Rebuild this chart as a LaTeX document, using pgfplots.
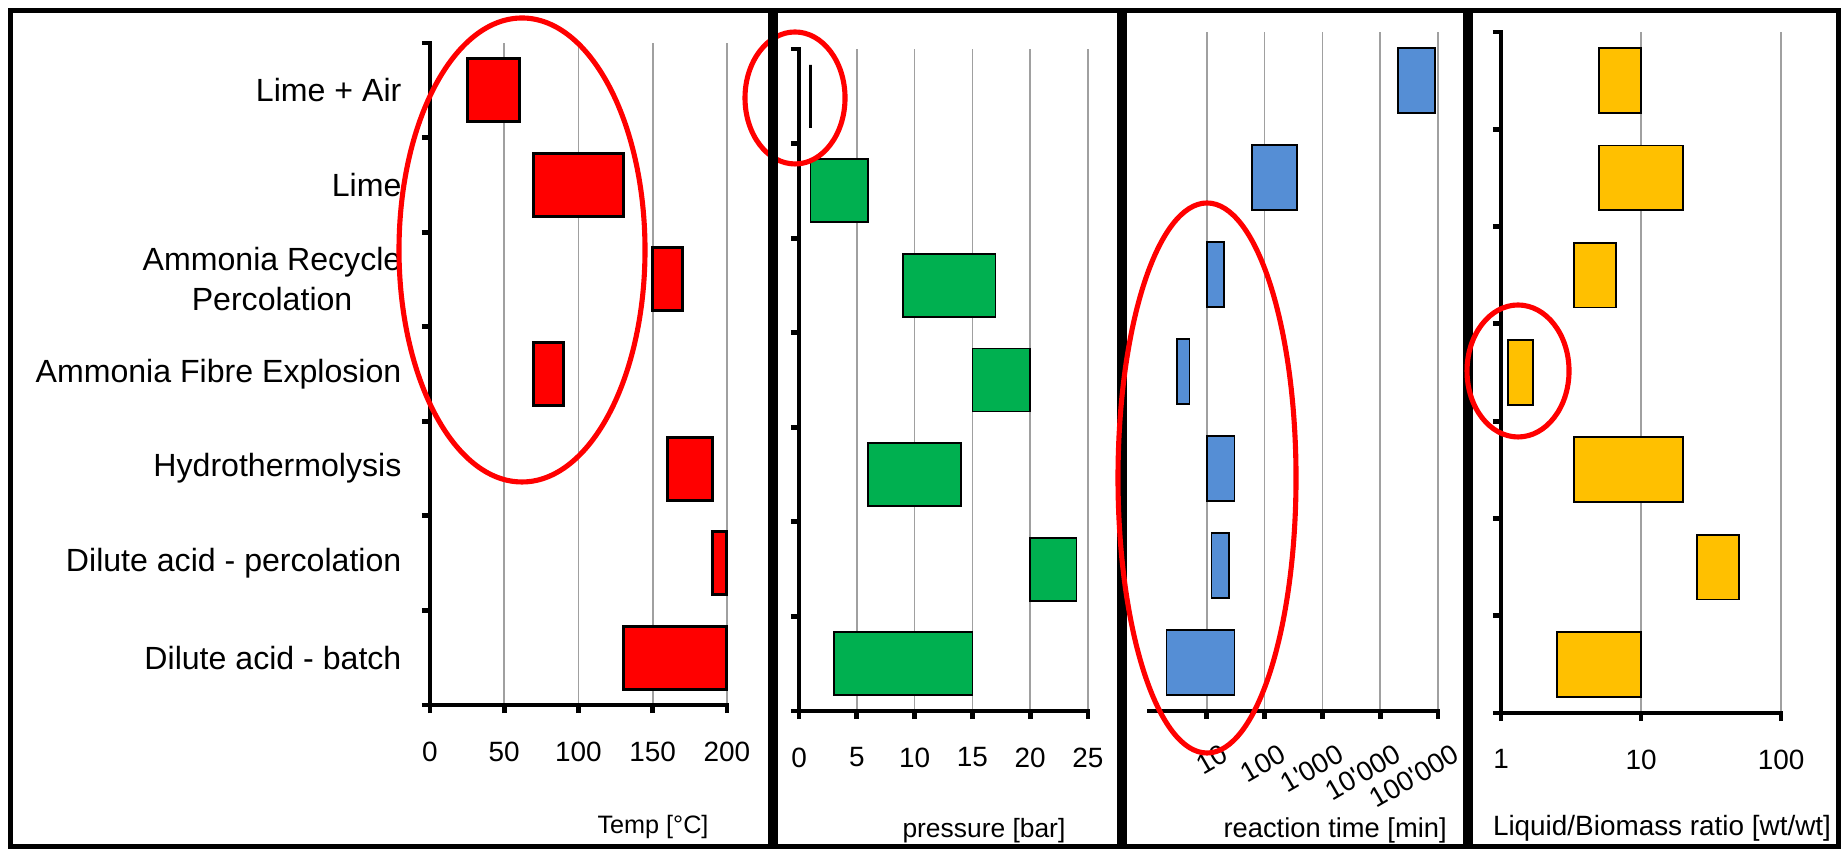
\documentclass[border=0pt]{standalone}
\usepackage{pgfplots}
\pgfplotsset{compat=1.18}
\usepackage{fontspec}
\setmainfont{Liberation Sans}

\definecolor{bred}{RGB}{255,0,0}
\definecolor{bgreen}{RGB}{0,176,80}
\definecolor{bblue}{RGB}{85,142,213}
\definecolor{byellow}{RGB}{255,192,0}
\definecolor{gridgray}{RGB}{160,160,160}

% one floating bar: low value, high value, category position (1 = bottom), style
\newcommand{\rbar}[4]{%
  \pgfmathsetmacro\ya{#3-0.333}\pgfmathsetmacro\yb{#3+0.333}%
  \edef\tmp{\noexpand\addplot[#4] coordinates {(#1,\ya) (#2,\ya) (#2,\yb) (#1,\yb)} -- cycle;}\tmp}

\pgfplotsset{
  panel/.style={
    scale only axis, clip=false,
    ymin=0.5, ymax=7.5,
    axis x line=bottom, axis y line=left,
    axis line style={-, line width=1.6pt, line cap=rect},
    tick align=outside,
    major tick length=2.7pt,
    tick style={line width=1.6pt, black},
    xminorticks=false, yminorticks=false,
    ytick={0.5,1.5,...,7.5}, yticklabels={},
    xmajorgrids,
    major grid style={draw=gridgray, line width=0.55pt},
    tick label style={font=\fontsize{9.3}{11}\selectfont},
    /pgf/number format/assume math mode=true,
    xlabel style={anchor=base},
  },
}

\begin{document}
\begin{tikzpicture}
\useasboundingbox (0,0) rectangle (614.33pt,283.33pt);

% Temperature
\begin{axis}[panel,
  at={(143.33pt,48.33pt)}, anchor=south west,
  width=99pt, height=220.67pt,
  xmin=0, xmax=200, xtick={0,50,...,200},
  xticklabel style={yshift=-6pt},
  extra y ticks={1,...,7},
  extra y tick labels={Dilute acid - batch, Dilute acid - percolation, Hydrothermolysis, Ammonia Fibre Explosion, {Ammonia Recycle\\Percolation}, Lime, Lime + Air},
  extra y tick style={major tick length=0pt,
    tick label style={font=\fontsize{10.7}{13.3}\selectfont, align=center, xshift=-6pt}},
  xlabel={Temp [°C]},
  xlabel style={at={(axis description cs:0.751,0)}, yshift=-42.67pt, font=\fontsize{8.4}{10}\selectfont},
]
\rbar{25}{60}{7}{fill=bred, draw=black, line width=1pt}
\rbar{70}{130}{6}{fill=bred, draw=black, line width=1pt}
\rbar{150}{170}{5}{fill=bred, draw=black, line width=1pt}
\rbar{70}{90}{4}{fill=bred, draw=black, line width=1pt}
\rbar{160}{190}{3}{fill=bred, draw=black, line width=1pt}
\rbar{190}{200}{2}{fill=bred, draw=black, line width=1pt}
\rbar{130}{200}{1}{fill=bred, draw=black, line width=1pt}
\end{axis}

% Pressure
\begin{axis}[panel,
  at={(266.33pt,46.33pt)}, anchor=south west,
  width=96.33pt, height=220.67pt,
  xmin=0, xmax=25, xtick={0,5,...,25},
  xticklabel style={yshift=-6pt},
  xlabel={pressure [bar]},
  xlabel style={at={(axis description cs:0.64,0)}, yshift=-42.33pt, font=\fontsize{8.8}{10}\selectfont},
]
\rbar{1}{1}{7}{draw=black, line width=0.8pt}
\rbar{1}{6}{6}{fill=bgreen, draw=black, line width=0.6pt}
\rbar{9}{17}{5}{fill=bgreen, draw=black, line width=0.6pt}
\rbar{15}{20}{4}{fill=bgreen, draw=black, line width=0.6pt}
\rbar{6}{14}{3}{fill=bgreen, draw=black, line width=0.6pt}
\rbar{20}{24}{2}{fill=bgreen, draw=black, line width=0.6pt}
\rbar{3}{15}{1}{fill=bgreen, draw=black, line width=0.6pt}
\end{axis}

% Reaction time
\begin{axis}[panel,
  at={(383pt,46.33pt)}, anchor=south west,
  width=96.33pt, height=226.33pt,
  xmode=log, xmin=1, xmax=100000,
  axis y line=none,
  xtick={10,100,1000,10000,100000},
  xticklabels={10,100,1\textquotesingle 000,10\textquotesingle 000,100\textquotesingle 000},
  xticklabel style={rotate=30, anchor=south east, inner sep=0pt, yshift=-16pt,
    font=\fontsize{9.2}{10}\selectfont},
  xlabel={reaction time [min]},
  xlabel style={at={(axis description cs:0.644,0)}, yshift=-42pt, font=\fontsize{9.1}{10}\selectfont},
]
\rbar{20000}{90000}{7}{fill=bblue, draw=black, line width=0.6pt}
\rbar{60}{360}{6}{fill=bblue, draw=black, line width=0.6pt}
\rbar{10}{20}{5}{fill=bblue, draw=black, line width=0.6pt}
\rbar{3}{5}{4}{fill=bblue, draw=black, line width=0.6pt}
\rbar{10}{30}{3}{fill=bblue, draw=black, line width=0.6pt}
\rbar{12}{24}{2}{fill=bblue, draw=black, line width=0.6pt}
\rbar{2}{30}{1}{fill=bblue, draw=black, line width=0.6pt}
\end{axis}

% Liquid/Biomass ratio
\begin{axis}[panel,
  at={(500.33pt,45.67pt)}, anchor=south west,
  width=93.33pt, height=227pt,
  xmode=log, xmin=1, xmax=100,
  xtick={1,10,100}, xticklabels={1,10,100},
  xticklabel style={yshift=-6pt},
  xlabel={Liquid/Biomass ratio [wt/wt]},
  xlabel style={at={(axis description cs:0.575,0)}, yshift=-40.67pt, font=\fontsize{9.3}{10}\selectfont},
]
\rbar{5}{10}{7}{fill=byellow, draw=black, line width=0.6pt}
\rbar{5}{20}{6}{fill=byellow, draw=black, line width=0.6pt}
\rbar{3.3}{6.6}{5}{fill=byellow, draw=black, line width=0.6pt}
\rbar{1.12}{1.7}{4}{fill=byellow, draw=black, line width=0.6pt}
\rbar{3.3}{20}{3}{fill=byellow, draw=black, line width=0.6pt}
\rbar{25}{50}{2}{fill=byellow, draw=black, line width=0.6pt}
\rbar{2.5}{10}{1}{fill=byellow, draw=black, line width=0.6pt}
\end{axis}

% frame and annotations
\draw[line width=1.67pt] (3.6pt,1.2pt) rectangle (612.7pt,279.7pt);
\draw[bred, line width=1.7pt] (265pt,250.67pt) ellipse [x radius=16.67pt, y radius=22pt];
\foreach \sx in {257.67,374,489.33}
  \draw[line width=3.33pt] (\sx pt,1.2pt) -- (\sx pt,279.7pt);
\draw[bred, line width=1.7pt] (174pt,200pt) ellipse [x radius=41pt, y radius=77.33pt];
\draw[bred, line width=1.7pt] (402.33pt,124pt) ellipse [x radius=29.67pt, y radius=91.67pt];
\draw[bred, line width=1.7pt] (506pt,159.67pt) ellipse [x radius=17pt, y radius=22pt];
\end{tikzpicture}
\end{document}
